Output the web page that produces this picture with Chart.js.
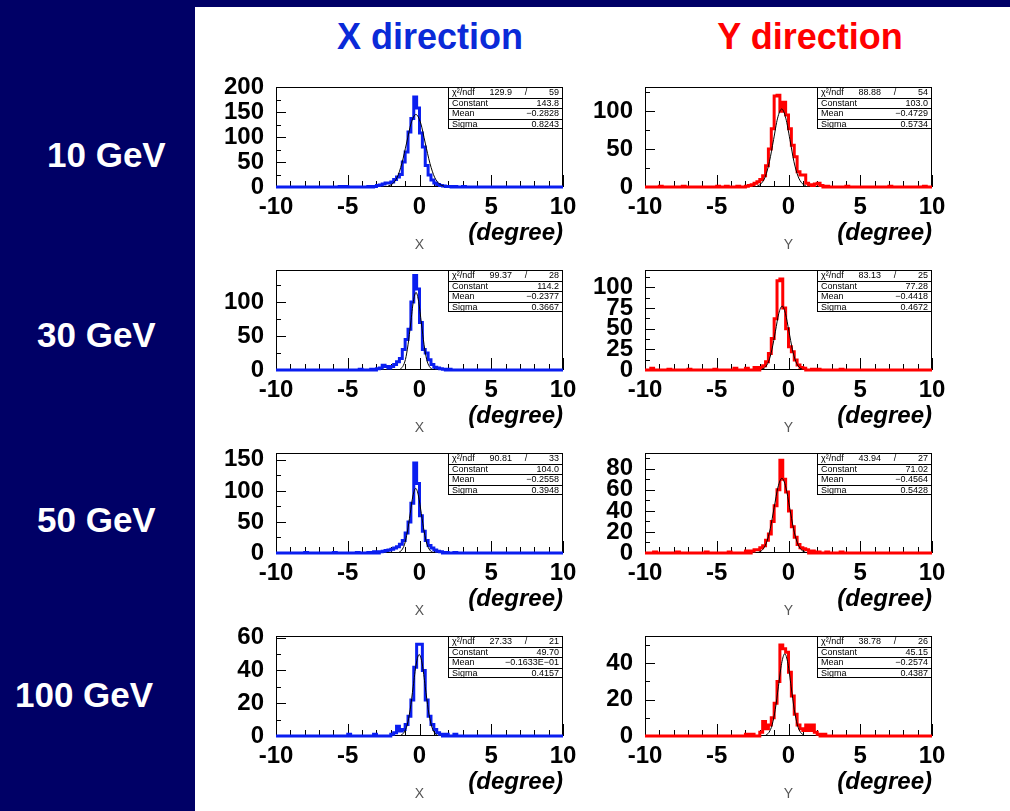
<!DOCTYPE html>
<html>
<head>
<meta charset="utf-8">
<script src="https://cdn.jsdelivr.net/npm/chart.js@4.4.0/dist/chart.umd.min.js"></script>
<style>
  body { margin: 0; width: 1010px; height: 811px; background: #000066; position: relative; overflow: hidden;
         font-family: "Liberation Sans", Arial, sans-serif; }
  #panel { position: absolute; left: 195px; top: 7px; width: 815px; height: 804px; background: #fff; }
  .title { position: absolute; top: 19px; font-size: 36px; font-weight: bold; line-height: 36px;
           transform: translateX(-50%); white-space: nowrap; }
  .energy { position: absolute; color: #fff; font-size: 35px; font-weight: bold; line-height: 35px; white-space: nowrap; }
  canvas.plot { position: absolute; }
</style>
</head>
<body>
<div id="panel"></div>
<div class="title" style="left:430px;color:#0a2ad8">X direction</div>
<div class="title" style="left:810px;color:#ff0000">Y direction</div>
<div class="energy" style="left:47px;top:137px">10 GeV</div>
<div class="energy" style="left:37px;top:317px">30 GeV</div>
<div class="energy" style="left:37px;top:502px">50 GeV</div>
<div class="energy" style="left:15px;top:677px">100 GeV</div>

<script>
// histogram bins: 100 bins of 0.2 degree from -10 to 10, one row = 2 degrees
const binLo = -10, binW = 0.2;

const h10x = [
  0,0,0,0,0,0,0,0,0,0,
  0,0,0,0,0,0,0,0,0,0,
  0,0,1,0,1,0,0,0,0,0,
  0,0,1,0,1,3,4,6,8,8,
  10,15,20,25,50,70,110,137,180,158,
  108,80,43,24,14,8,5,3,2,1,
  1,0,1,0,0,1,0,0,0,0,
  0,0,0,0,0,0,0,0,0,0,
  0,0,0,0,0,0,0,0,0,0,
  0,0,0,0,0,0,0,0,0,0];
const h10y = [
  0,0,0,0,0,1,0,0,0,0,
  0,0,0,1,0,0,0,0,0,0,
  0,0,0,0,0,1,0,0,1,0,
  0,0,1,0,0,1,2,3,5,7,
  10,15,28,50,77,120,121,100,112,95,
  77,55,40,20,16,16,5,3,2,4,
  5,2,0,1,0,0,0,0,0,0,
  1,0,0,0,0,0,0,0,0,0,
  0,0,0,0,0,1,0,0,0,0,
  0,0,0,0,0,0,0,1,0,0];
const h30x = [
  0,0,0,0,0,0,0,0,0,0,
  0,0,0,0,0,0,0,0,0,0,
  0,0,0,0,0,0,0,0,0,1,
  0,0,0,1,0,2,3,7,5,3,
  5,8,12,17,30,45,60,100,139,119,
  70,30,25,15,8,4,3,2,1,0,
  1,0,0,0,0,0,0,0,0,0,
  0,0,0,0,0,0,0,0,0,0,
  0,0,0,0,0,0,0,0,0,0,
  0,0,0,0,0,0,0,0,0,0];
const h30y = [
  0,0,2,0,0,0,0,0,1,0,
  0,0,0,0,0,1,0,0,0,0,
  0,0,0,0,1,0,0,0,0,0,
  0,2,0,0,0,2,0,0,3,0,
  3,5,10,20,38,62,108,110,75,50,
  28,22,12,6,3,2,0,0,1,0,
  1,0,0,0,0,0,0,0,1,0,
  0,0,0,0,0,0,0,0,0,0,
  0,0,0,0,0,0,0,0,0,0,
  0,0,0,0,0,0,0,0,0,0];
const h50x = [
  0,0,0,0,0,0,0,0,0,0,
  1,0,0,0,0,0,0,0,0,0,
  1,0,0,0,0,0,0,0,1,0,
  0,0,1,0,2,0,2,3,4,5,
  6,8,10,14,20,32,50,80,145,112,
  60,35,20,12,8,5,3,2,0,1,
  0,0,1,0,0,0,0,0,0,0,
  0,0,0,0,0,0,0,0,0,0,
  0,0,0,0,0,0,0,0,0,0,
  0,0,0,0,0,0,0,0,0,0];
const h50y = [
  0,0,0,1,0,0,0,0,0,0,
  0,1,0,0,0,0,0,0,0,0,
  0,1,0,0,0,0,0,0,0,1,
  0,0,0,0,0,2,0,2,3,3,
  5,7,12,18,30,45,60,88,70,58,
  40,25,15,8,5,4,3,0,2,0,
  1,0,0,1,0,0,0,0,1,0,
  0,0,0,0,0,0,0,0,0,0,
  0,0,0,0,0,0,0,0,0,0,
  0,0,0,0,0,0,0,0,0,0];
const h100x = [
  0,0,0,0,0,0,0,0,0,0,
  0,0,0,0,0,0,0,0,0,0,
  0,0,0,0,0,1,0,0,0,0,
  0,0,0,0,1,0,0,0,0,0,
  1,2,6,3,4,7,12,22,42,56,
  56,40,22,12,7,4,2,1,0,1,
  0,0,1,0,0,0,0,0,0,0,
  0,0,0,0,0,0,0,0,0,0,
  0,0,0,0,0,0,0,0,0,0,
  0,0,0,0,0,0,0,0,0,0];
const h100y = [
  0,0,0,0,0,0,0,0,0,0,
  0,0,0,0,0,0,0,0,0,0,
  0,0,0,0,0,0,0,0,0,0,
  0,0,0,0,0,1,0,1,0,0,
  2,8,4,6,10,18,30,50,48,46,
  35,22,12,6,4,3,6,3,6,2,
  1,0,1,0,0,0,0,0,0,0,
  0,0,0,0,0,0,0,0,0,0,
  0,0,0,0,0,0,0,0,0,0,
  0,0,0,0,0,0,0,0,0,0];

// gaussian fit curves
const fit10xX = [-2.2,-1.88,-1.55,-1.23,-0.9,-0.58,-0.25,0.08,0.4,0.73,1.05,1.38,1.7];
const fit10xY = [1.6,6.4,19.6,47.1,87.9,128,145,128,87.9,47.1,19.6,6.4,1.6];
const fit10yX = [-2.18,-1.9,-1.61,-1.33,-1.04,-0.76,-0.47,-0.19,0.1,0.38,0.67,0.96,1.24];
const fit10yY = [1.1,4.5,13.9,33.4,62.5,90.9,103,90.9,62.5,33.4,13.9,4.5,1.1];
const fit30xX = [-1.35,-1.17,-0.98,-0.8,-0.61,-0.43,-0.24,-0.06,0.13,0.32,0.5,0.69,0.87];
const fit30xY = [1.3,5,15.4,37,69.1,100.6,114,100.6,69.1,37,15.4,5,1.3];
const fit30yX = [-1.85,-1.62,-1.38,-1.15,-0.91,-0.68,-0.44,-0.21,0.03,0.27,0.5,0.74,0.97];
const fit30yY = [0.9,3.4,10.5,25.1,46.9,68.2,77.3,68.2,46.9,25.1,10.5,3.4,0.9];
const fit50xX = [-1.43,-1.24,-1.04,-0.85,-0.65,-0.46,-0.26,-0.07,0.13,0.33,0.52,0.72,0.91];
const fit50xY = [1.2,4.6,14.1,33.8,63.1,91.8,104,91.8,63.1,33.8,14.1,4.6,1.2];
const fit50yX = [-2.08,-1.81,-1.54,-1.27,-1.0,-0.73,-0.46,-0.19,0.08,0.35,0.62,0.89,1.16];
const fit50yY = [0.8,3.1,9.6,23.1,43.1,62.7,71,62.7,43.1,23.1,9.6,3.1,0.8];
const fit100xX = [-1.28,-1.07,-0.86,-0.65,-0.44,-0.23,-0.02,0.19,0.4,0.61,0.82,1.03,1.24];
const fit100xY = [0.6,2.2,6.7,16.1,30.1,43.9,49.7,43.9,30.1,16.1,6.7,2.2,0.6];
const fit100yX = [-1.58,-1.36,-1.14,-0.92,-0.7,-0.48,-0.26,-0.04,0.18,0.4,0.62,0.84,1.06];
const fit100yY = [0.5,2,6.1,14.7,27.4,39.9,45.2,39.9,27.4,14.7,6.1,2,0.5];

// stats boxes
const chi2 = ['129.9','88.88','99.37','83.13','90.81','43.94','27.33','38.78'];
const ndf = ['59','54','28','25','33','27','21','26'];
const constant = ['143.8','103.0','114.2','77.28','104.0','71.02','49.70','45.15'];
const mean = ['\u22120.2828','\u22120.4729','\u22120.2377','\u22120.4418','\u22120.2558','\u22120.4564','\u22120.1633E\u221201','\u22120.2574'];
const sigma = ['0.8243','0.5734','0.3667','0.4672','0.3948','0.5428','0.4157','0.4387'];

// y axis ranges / tick steps
const yMax = [200, 132, 147, 121, 161, 95, 61, 55];
const yStep = [50, 50, 50, 25, 50, 20, 20, 20];
const xTicks = [-10, -5, 0, 5, 10];

const hists = [h10x, h10y, h30x, h30y, h50x, h50y, h100x, h100y];
const fitsX = [fit10xX, fit10yX, fit30xX, fit30yX, fit50xX, fit50yX, fit100xX, fit100yX];
const fitsY = [fit10xY, fit10yY, fit30xY, fit30yY, fit50xY, fit50yY, fit100xY, fit100yY];

const FONT = '"Liberation Sans", Arial, sans-serif';
const frameTops = [87, 270, 453, 636];
const frameLefts = [276, 645];
const colors = ['#0a1ef0', '#ff0000'];

const rootFrame = {
  id: 'rootFrame',
  beforeDatasetsDraw(chart, args, o) {
    const { ctx, chartArea: a, scales: { x, y } } = chart;
    ctx.save();
    ctx.strokeStyle = '#000';
    ctx.lineWidth = 1;
    ctx.strokeRect(a.left + 0.5, a.top + 0.5, a.right - a.left - 1, a.bottom - a.top - 1);
    ctx.beginPath();
    for (let v = -10; v <= 10; v++) {
      const px = Math.round(x.getPixelForValue(v)) + 0.5;
      const len = v % 5 === 0 ? 12 : 6;
      ctx.moveTo(px, a.bottom);
      ctx.lineTo(px, a.bottom - len);
    }
    for (let k = 0; k * o.step / 2 <= y.max; k++) {
      const py = Math.round(y.getPixelForValue(k * o.step / 2)) + 0.5;
      const len = k % 2 === 0 ? 10 : 5;
      ctx.moveTo(a.left, py);
      ctx.lineTo(a.left + len, py);
    }
    ctx.stroke();
    ctx.restore();
  },
  afterDatasetsDraw(chart, args, o) {
    const { ctx, chartArea: a } = chart;
    const i = o.index;
    ctx.save();
    // stats box
    const bw = 115, bh = 42, bx = a.right - bw, by = a.top, rh = bh / 4;
    ctx.fillStyle = '#fff';
    ctx.fillRect(bx, by, bw, bh);
    ctx.strokeStyle = '#000';
    ctx.lineWidth = 1;
    ctx.strokeRect(bx + 0.5, by + 0.5, bw - 1, bh - 1);
    ctx.beginPath();
    for (let k = 1; k < 4; k++) {
      const py = Math.round(by + k * rh) + 0.5;
      ctx.moveTo(bx, py); ctx.lineTo(bx + bw, py);
    }
    ctx.stroke();
    ctx.fillStyle = '#000';
    ctx.font = '9px ' + FONT;
    ctx.textBaseline = 'middle';
    const cy = k => by + k * rh + rh / 2 + 0.5;
    ctx.textAlign = 'left';
    ctx.fillText('\u03c7\u00b2/ndf', bx + 4, cy(0));
    ctx.fillText('Constant', bx + 4, cy(1));
    ctx.fillText('Mean', bx + 4, cy(2));
    ctx.fillText('Sigma', bx + 4, cy(3));
    ctx.textAlign = 'right';
    ctx.fillText(chi2[i], bx + 64, cy(0));
    ctx.fillText(ndf[i], bx + bw - 4, cy(0));
    ctx.fillText(constant[i], bx + bw - 4, cy(1));
    ctx.fillText(mean[i], bx + bw - 4, cy(2));
    ctx.fillText(sigma[i], bx + bw - 4, cy(3));
    ctx.textAlign = 'center';
    ctx.fillText('/', bx + 78, cy(0));
    // axis titles
    ctx.textBaseline = 'middle';
    ctx.font = 'italic bold 24px ' + FONT;
    ctx.textAlign = 'right';
    ctx.fillText('(degree)', a.right, a.bottom + 46);
    ctx.font = '14px ' + FONT;
    ctx.fillStyle = '#555';
    ctx.textAlign = 'center';
    ctx.fillText(o.axis, (a.left + a.right) / 2, a.bottom + 58);
    ctx.restore();
  }
};

const PADTOP = 16, YW = 76, XH = 70, PW = 287, PH = 100, PADR = 20;

hists.forEach((h, i) => {
  const row = Math.floor(i / 2), col = i % 2;
  const cv = document.createElement('canvas');
  cv.className = 'plot';
  cv.width = YW + PW + PADR;
  cv.height = PADTOP + PH + XH;
  cv.style.left = (frameLefts[col] - YW) + 'px';
  cv.style.top = (frameTops[row] - PADTOP) + 'px';
  document.body.appendChild(cv);

  const histPts = h.map((v, k) => ({ x: binLo + binW * k, y: v }));
  histPts.push({ x: binLo + binW * h.length, y: h[h.length - 1] });
  const fitPts = fitsX[i].map((x, k) => ({ x, y: fitsY[i][k] }));
  const step = yStep[i];

  new Chart(cv.getContext('2d'), {
    type: 'line',
    data: {
      datasets: [
        { data: fitPts, borderColor: '#000', borderWidth: 1, pointRadius: 0,
          cubicInterpolationMode: 'monotone', fill: false },
        { data: histPts, borderColor: colors[col], borderWidth: 3, pointRadius: 0,
          stepped: 'before', fill: false, clip: false }
      ]
    },
    options: {
      responsive: false,
      animation: false,
      devicePixelRatio: 1,
      layout: { padding: { top: PADTOP, right: PADR, left: 0, bottom: 0 } },
      plugins: {
        legend: { display: false },
        tooltip: { enabled: false },
        rootFrame: { index: i, step, axis: col === 0 ? 'X' : 'Y' }
      },
      scales: {
        x: {
          type: 'linear', min: -10, max: 10,
          grid: { display: false, drawTicks: false },
          border: { display: false },
          afterBuildTicks: s => { s.ticks = xTicks.map(v => ({ value: v })); },
          afterFit: s => { s.height = XH; s.paddingLeft = 0; s.paddingRight = 0; },
          ticks: { color: '#000', font: { family: FONT, size: 24, weight: 'bold' }, padding: 6,
                   maxRotation: 0, autoSkip: false, callback: v => String(v) }
        },
        y: {
          min: 0, max: yMax[i],
          grid: { display: false, drawTicks: false },
          border: { display: false },
          afterBuildTicks: s => {
            const t = [];
            for (let v = 0; v <= yMax[i]; v += step) t.push({ value: v });
            s.ticks = t;
          },
          afterFit: s => { s.width = YW; s.paddingTop = 0; s.paddingBottom = 0; },
          ticks: { color: '#000', font: { family: FONT, size: 24, weight: 'bold' }, padding: 12,
                   autoSkip: false }
        }
      }
    },
    plugins: [rootFrame]
  });
});
</script>
</body>
</html>
